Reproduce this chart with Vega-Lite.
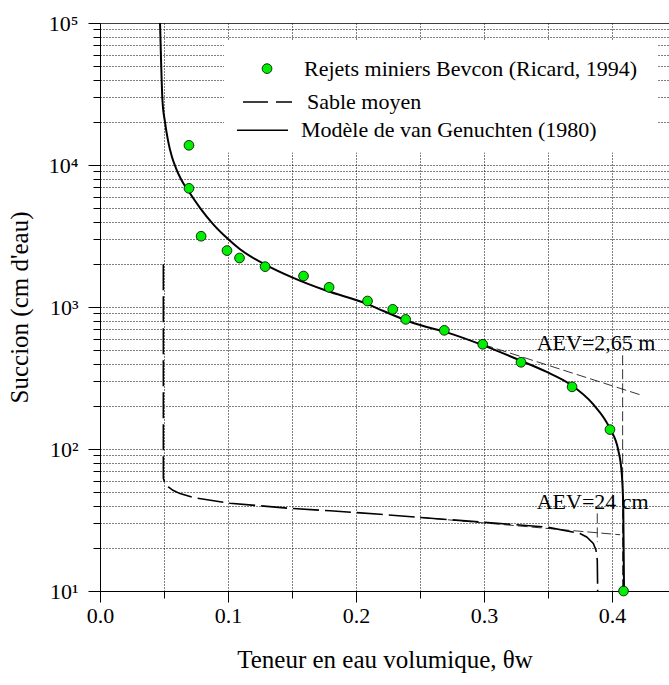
{
  "$schema": "https://vega.github.io/schema/vega-lite/v6.json",
  "width": 569,
  "height": 568,
  "autosize": {"type": "none"},
  "padding": {"left": 100, "top": 23, "right": 0, "bottom": 94},
  "background": "white",
  "config": {"view": {"stroke": null}, "font": "Liberation Serif"},
  "datasets": {
    "pts": [
      {"theta": 0.0695, "psi": 13760}, {"theta": 0.0695, "psi": 6850}, {"theta": 0.079, "psi": 3150},
      {"theta": 0.0992, "psi": 2496}, {"theta": 0.109, "psi": 2213}, {"theta": 0.129, "psi": 1924},
      {"theta": 0.159, "psi": 1653}, {"theta": 0.179, "psi": 1376}, {"theta": 0.209, "psi": 1102},
      {"theta": 0.2287, "psi": 963}, {"theta": 0.2388, "psi": 818}, {"theta": 0.269, "psi": 685},
      {"theta": 0.299, "psi": 546}, {"theta": 0.3289, "psi": 408}, {"theta": 0.3688, "psi": 274},
      {"theta": 0.3984, "psi": 137}, {"theta": 0.409, "psi": 10}
    ],
    "vg": [
      {"theta": 0.0469, "psi": 100000}, {"theta": 0.0477, "psi": 54600}, {"theta": 0.0488, "psi": 28550},
      {"theta": 0.0508, "psi": 19980}, {"theta": 0.0531, "psi": 14920}, {"theta": 0.0563, "psi": 11330},
      {"theta": 0.0594, "psi": 9480}, {"theta": 0.0633, "psi": 7930}, {"theta": 0.0695, "psi": 6476},
      {"theta": 0.0781, "psi": 4995}, {"theta": 0.0885, "psi": 3823}, {"theta": 0.099, "psi": 3072},
      {"theta": 0.1094, "psi": 2549}, {"theta": 0.1302, "psi": 1966}, {"theta": 0.151, "psi": 1605},
      {"theta": 0.1771, "psi": 1301}, {"theta": 0.2086, "psi": 1053}, {"theta": 0.2188, "psi": 959},
      {"theta": 0.2448, "psi": 771}, {"theta": 0.2709, "psi": 663}, {"theta": 0.2995, "psi": 537},
      {"theta": 0.3281, "psi": 421}, {"theta": 0.349, "psi": 349}, {"theta": 0.3672, "psi": 286},
      {"theta": 0.3854, "psi": 206}, {"theta": 0.3984, "psi": 139}, {"theta": 0.4049, "psi": 98},
      {"theta": 0.4076, "psi": 67.4}, {"theta": 0.4088, "psi": 39}, {"theta": 0.4094, "psi": 10}
    ],
    "sand": [
      {"theta": 0.0495, "psi": 2000}, {"theta": 0.0495, "psi": 62.2}, {"theta": 0.0508, "psi": 57.3},
      {"theta": 0.0534, "psi": 54}, {"theta": 0.057, "psi": 51.2}, {"theta": 0.0625, "psi": 48.5},
      {"theta": 0.0729, "psi": 45.5}, {"theta": 0.1016, "psi": 41.5}, {"theta": 0.148, "psi": 38.2},
      {"theta": 0.1797, "psi": 36.7}, {"theta": 0.2188, "psi": 34.7}, {"theta": 0.25, "psi": 33.0},
      {"theta": 0.2969, "psi": 30.6}, {"theta": 0.349, "psi": 28.2}, {"theta": 0.375, "psi": 25.4},
      {"theta": 0.3802, "psi": 24}, {"theta": 0.3854, "psi": 21.6}, {"theta": 0.3875, "psi": 19.4},
      {"theta": 0.3885, "psi": 16.5}, {"theta": 0.3888, "psi": 10}
    ],
    "aev": [
      {"grp": "vgTan", "theta": 0.2995, "psi": 544}, {"grp": "vgTan", "theta": 0.4232, "psi": 239},
      {"grp": "vgVert", "theta": 0.4083, "psi": 457}, {"grp": "vgVert", "theta": 0.4083, "psi": 10},
      {"grp": "sTan", "theta": 0.25, "psi": 33.0}, {"grp": "sTan", "theta": 0.4063, "psi": 24.9},
      {"grp": "sVert", "theta": 0.3885, "psi": 35.2}, {"grp": "sVert", "theta": 0.3885, "psi": 22.1}
    ],
    "box": [{"theta": 0.0969, "theta2": 0.4355, "psi": 75500, "psi2": 12270}],
    "legPt": [{"theta": 0.1305, "psi": 47730}],
    "legDash": [{"theta": 0.1117, "psi": 27780}, {"theta": 0.15, "psi": 27780}],
    "legSolid": [{"theta": 0.107, "psi": 17560}, {"theta": 0.1469, "psi": 17560}],
    "legText": [
      {"theta": 0.1594, "psi": 47730, "txt": "Rejets miniers Bevcon (Ricard, 1994)"},
      {"theta": 0.1617, "psi": 27780, "txt": "Sable moyen"},
      {"theta": 0.157, "psi": 17560, "txt": "Modèle de van Genuchten (1980)"}
    ],
    "aevText": [
      {"theta": 0.3412, "psi": 501, "txt": "AEV=2,65 m"},
      {"theta": 0.3412, "psi": 38, "txt": "AEV=24 cm"}
    ]
  },
  "encoding": {
    "x": {
      "field": "theta", "type": "quantitative",
      "scale": {"domain": [0, 0.44453], "nice": false, "zero": false},
      "axis": {
        "values": [0, 0.05, 0.1, 0.15, 0.2, 0.25, 0.3, 0.35, 0.4],
        "labelExpr": "round(datum.value*20)%2==0 ? format(datum.value,'.1f') : ''",
        "tickSize": {"condition": {"test": "round(datum.value*20)%2==0", "value": 11}, "value": 7},
        "tickColor": "black", "tickWidth": 1,
        "domainColor": "black", "domainWidth": 1,
        "grid": true, "gridColor": "black", "gridDash": [1, 2], "gridOpacity": 1, "gridWidth": 1,
        "labelFont": "Liberation Serif", "labelFontSize": 22, "labelColor": "black", "labelPadding": 3,
        "labelFlush": false, "labelOverlap": false,
        "title": "Teneur en eau volumique, θw",
        "titleFont": "Liberation Serif", "titleFontSize": 25, "titleFontWeight": "normal", "titleColor": "black",
        "titlePadding": 21
      }
    },
    "y": {
      "field": "psi", "type": "quantitative",
      "scale": {"type": "log", "domain": [10, 100000], "nice": false},
      "axis": {
        "values": [10, 20, 30, 40, 50, 60, 70, 80, 90, 100, 200, 300, 400, 500, 600, 700, 800, 900, 1000, 2000, 3000, 4000, 5000, 6000, 7000, 8000, 9000, 10000, 20000, 30000, 40000, 50000, 60000, 70000, 80000, 90000, 100000],
        "labelExpr": "datum.value == 100000 ? '10⁵' : datum.value == 10000 ? '10⁴' : datum.value == 1000 ? '10³' : datum.value == 100 ? '10²' : datum.value == 10 ? '10¹' : ''",
        "tickSize": {"condition": {"test": "indexof([10,100,1000,10000,100000], datum.value) >= 0", "value": 12}, "value": 7},
        "tickColor": "black", "tickWidth": 1,
        "domainColor": "black", "domainWidth": 1,
        "grid": true, "gridColor": "black", "gridOpacity": 1, "gridWidth": 1,
        "gridDash": {"condition": {"test": "datum.value == 100000", "value": [1, 0]}, "value": [1, 2]},
        "labelFont": "Liberation Serif", "labelFontSize": 22, "labelColor": "black", "labelPadding": 10,
        "labelFlush": false, "labelOverlap": false,
        "title": "Succion (cm d'eau)",
        "titleFont": "Liberation Serif", "titleFontSize": 25, "titleFontWeight": "normal", "titleColor": "black",
        "titlePadding": 16
      }
    }
  },
  "layer": [
    {"data": {"name": "box"}, "mark": {"type": "rect", "fill": "white", "stroke": null},
     "encoding": {"x2": {"field": "theta2"}, "y2": {"field": "psi2"}}},
    {"data": {"name": "aev"}, "mark": {"type": "line", "color": "black", "strokeWidth": 0.8, "strokeDash": [10, 4]},
     "encoding": {"detail": {"field": "grp"}, "order": {"value": null}}},
    {"data": {"name": "sand"}, "mark": {"type": "line", "color": "black", "strokeWidth": 1.6, "strokeDash": [26, 6], "clip": true},
     "encoding": {"order": {"value": null}}},
    {"data": {"name": "vg"}, "mark": {"type": "line", "color": "black", "strokeWidth": 2, "interpolate": "monotone", "clip": true},
     "encoding": {"order": {"value": null}}},
    {"data": {"name": "pts"}, "mark": {"type": "point", "shape": "circle", "filled": true, "fill": "#00ee00", "stroke": "black", "strokeWidth": 0.8, "size": 95, "opacity": 1}},
    {"data": {"name": "legPt"}, "mark": {"type": "point", "shape": "circle", "filled": true, "fill": "#00ee00", "stroke": "black", "strokeWidth": 0.8, "size": 95, "opacity": 1}},
    {"data": {"name": "legDash"}, "mark": {"type": "line", "color": "black", "strokeWidth": 1.6, "strokeDash": [25, 8]}, "encoding": {}},
    {"data": {"name": "legSolid"}, "mark": {"type": "line", "color": "black", "strokeWidth": 1.6}, "encoding": {}},
    {"data": {"name": "legText"}, "mark": {"type": "text", "align": "left", "baseline": "middle", "font": "Liberation Serif", "fontSize": 22, "color": "black"},
     "encoding": {"text": {"field": "txt"}}},
    {"data": {"name": "aevText"}, "mark": {"type": "text", "align": "left", "baseline": "alphabetic", "font": "Liberation Serif", "fontSize": 22, "color": "black"},
     "encoding": {"text": {"field": "txt"}}}
  ]
}
